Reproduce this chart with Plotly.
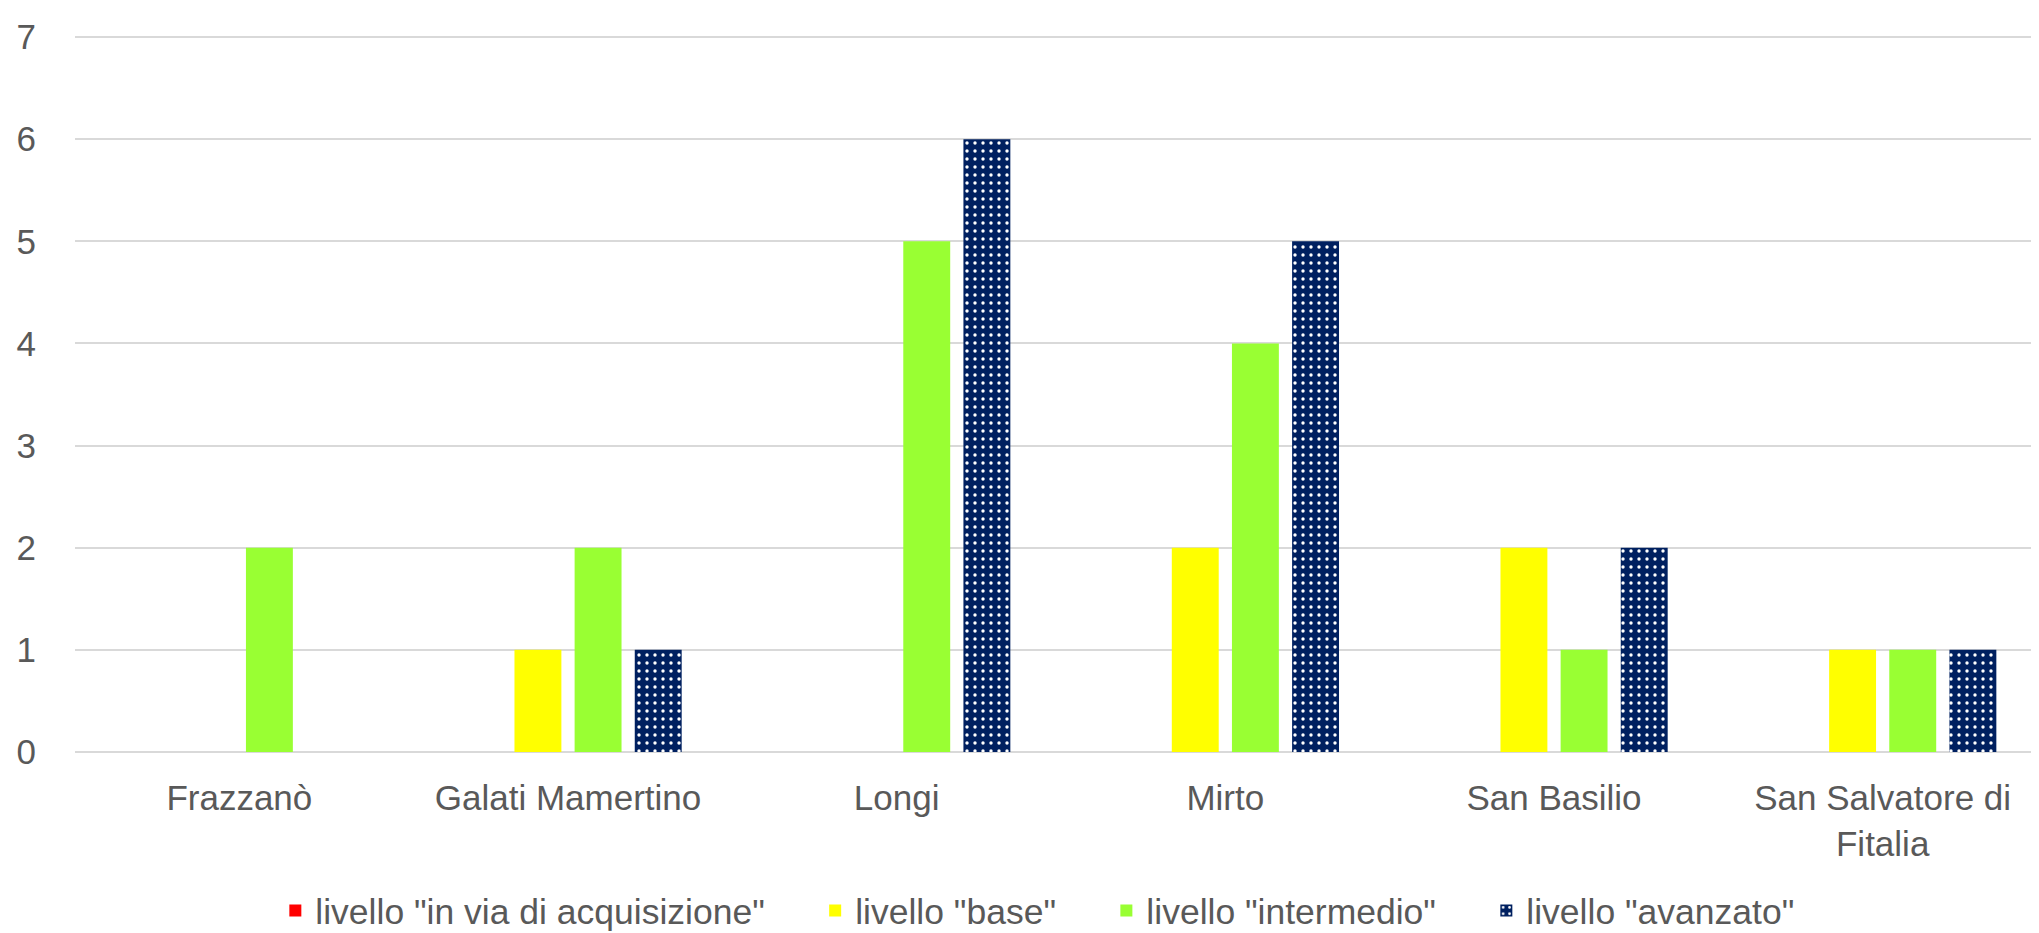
import plotly.graph_objects as go

categories = ["Frazzanò", "Galati Mamertino", "Longi", "Mirto", "San Basilio", "San Salvatore di Fitalia"]
tick_labels = ["Frazzanò", "Galati Mamertino", "Longi", "Mirto", "San Basilio", "San Salvatore di<br>Fitalia"]

series_names = ['livello "in via di acquisizione"', 'livello "base"', 'livello "intermedio"', 'livello "avanzato"']
in_via = [0, 0, 0, 0, 0, 0]
base = [0, 1, 0, 2, 2, 1]
intermedio = [2, 2, 5, 4, 1, 1]
avanzato = [0, 1, 6, 5, 2, 1]

y_ticks = [0, 1, 2, 3, 4, 5, 6, 7]

FONT = "Liberation Sans, Arial, sans-serif"
TXT = "#595959"
PAD = "\u2002\u2002\u00a0"

fig = go.Figure()
fig.add_trace(go.Bar(x=categories, y=in_via, name=series_names[0] + PAD,
                     marker=dict(color="#FF0000", line=dict(width=0))))
fig.add_trace(go.Bar(x=categories, y=base, name=series_names[1] + PAD,
                     marker=dict(color="#FFFF00", line=dict(width=0))))
fig.add_trace(go.Bar(x=categories, y=intermedio, name=series_names[2] + PAD,
                     marker=dict(color="#99FF33", line=dict(width=0))))
fig.add_trace(go.Bar(x=categories, y=avanzato, name=series_names[3],
                     marker=dict(color="#002060", line=dict(width=0),
                                 pattern=dict(shape=".", bgcolor="#002060", fgcolor="#FFFFFF",
                                              size=8, solidity=0.14, fillmode="replace"))))

fig.update_layout(
    width=2039, height=933,
    barmode="group", bargap=0.268, bargroupgap=0.22,
    paper_bgcolor="white", plot_bgcolor="white",
    margin=dict(l=67, r=0, t=27, b=179, pad=0),
    font=dict(family=FONT, size=35, color=TXT),
    showlegend=True,
    legend=dict(orientation="h", x=0.488, xanchor="center", y=-0.222, yanchor="middle",
                font=dict(family=FONT, size=35.5, color=TXT), bgcolor="rgba(0,0,0,0)",
                itemclick=False, itemdoubleclick=False, traceorder="normal"),
    xaxis=dict(tickvals=categories, ticktext=tick_labels, showgrid=False, showline=False,
               zeroline=False, ticks="", ticklabelstandoff=22,
               tickfont=dict(family=FONT, size=35, color=TXT)),
    yaxis=dict(range=[0, 7.02], tickvals=y_ticks, showgrid=True, gridcolor="#D9D9D9", gridwidth=2,
               zeroline=True, zerolinecolor="#D9D9D9", zerolinewidth=2, showline=False,
               ticks="", ticklabelstandoff=38,
               tickfont=dict(family=FONT, size=35, color=TXT)),
)

fig.write_html("out.html")
